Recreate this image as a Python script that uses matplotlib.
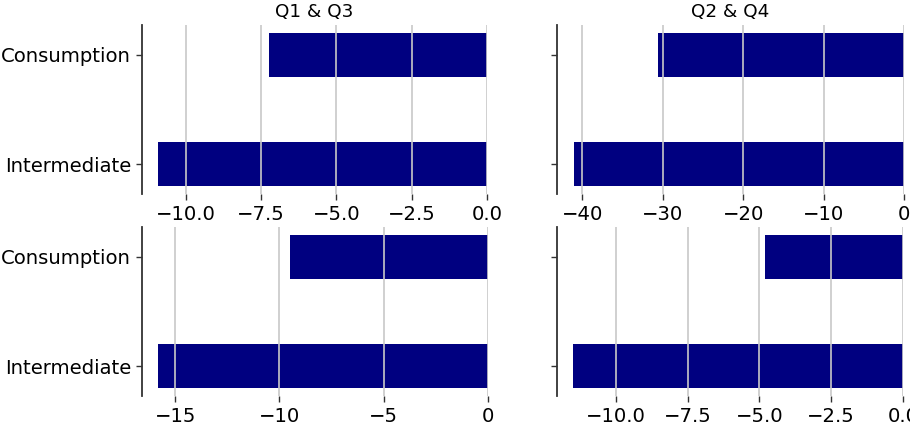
import matplotlib
matplotlib.use("Agg")
import matplotlib.pyplot as plt

categories = ["Intermediate", "Consumption"]
titles = ["Q1 & Q3", "Q2 & Q4"]

# values per panel: (row, column) -> [Intermediate, Consumption]
top_q13 = [-10.9, -7.22]
top_q24 = [-41.1, -30.6]
bottom_q13 = [-15.8, -9.49]
bottom_q24 = [-11.47, -4.81]

panels = [[top_q13, top_q24], [bottom_q13, bottom_q24]]

plt.rcParams["font.family"] = ["DejaVu Sans"]
plt.rcParams["font.size"] = 14.1

fig = plt.figure(figsize=(9.1, 4.3), dpi=100)
W, H = 910.0, 430.0
boxes = [
    [(142, 25, 487, 194), (557, 25, 904, 194)],
    [(142, 227, 488, 396), (557, 227, 903, 396)],
]

for r in range(2):
    for c in range(2):
        x0, y0, x1, y1 = boxes[r][c]
        ax = fig.add_axes([x0 / W, 1 - y1 / H, (x1 - x0) / W, (y1 - y0) / H])
        vals = panels[r][c]
        ax.barh(range(len(categories)), vals, height=0.4, color="navy", zorder=1)
        ax.set_yticks(range(len(categories)))
        if c == 0:
            ax.set_yticklabels(categories)
        else:
            ax.set_yticklabels([])
        for side in ("top", "right", "bottom"):
            ax.spines[side].set_visible(False)
        ax.spines["left"].set_color("#333333")
        ax.spines["left"].set_linewidth(1.3)
        ax.xaxis.grid(True, color="#c8c8c8", linewidth=1.2, zorder=2)
        ax.set_axisbelow(False)
        ax.tick_params(axis="both", length=4.5, width=1.0, color="#333333",
                       labelsize=14.1)
        if r == 0:
            ax.set_title(titles[c], fontsize=13.2, pad=6)

fig.savefig("out.png", dpi=100)
